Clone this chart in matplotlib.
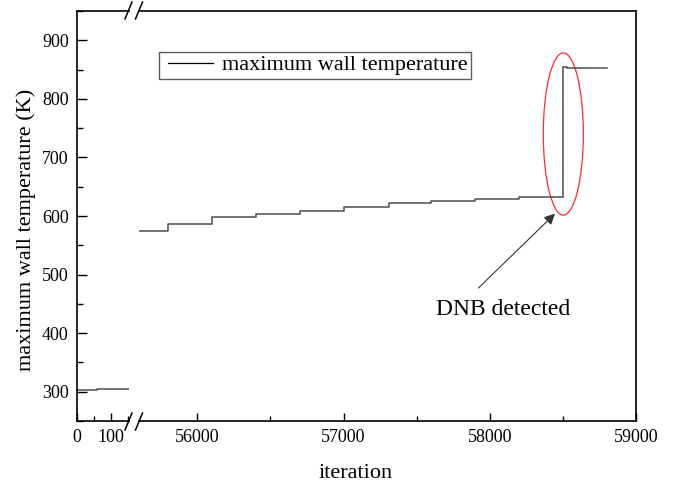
import matplotlib
matplotlib.use("Agg")
import matplotlib.pyplot as plt
from matplotlib.patches import Ellipse
from matplotlib.lines import Line2D
from matplotlib.legend_handler import HandlerLine2D
from matplotlib.ticker import MultipleLocator

plt.rcParams['font.family'] = ['Liberation Serif', 'DejaVu Serif']

# ---- data ----
# early iterations (left segment)
iter_early = [0, 60, 60, 153]
temp_early = [303, 303, 304.5, 304.5]

# later iterations (right segment): step profile
step_iters = [55601, 55800, 56100, 56400, 56700, 57000, 57310, 57600, 57900, 58200, 58500]
step_temps = [575, 586.5, 598, 603.5, 609, 615, 621.5, 625, 628.5, 632, 855]
end_iter = 58800
end_temp = 852

series_label = "maximum wall temperature"
xlabel = "iteration"
ylabel = "maximum wall temperature (K)"
annot_text = "DNB detected"
annot_xy = (58446, 604)
annot_from = (57922, 477)
annot_text_xy = (58090, 440)
ellipse_center = (58503, 740)
ellipse_size = (274, 277)

W, H = 675, 486
fig = plt.figure(figsize=(W / 100, H / 100), dpi=100)

def fx(px):
    return px / W

def fy(py):
    return 1 - py / H

ax_bottom = fy(421)
ax_height = (421 - 11) / H
ax1 = fig.add_axes([fx(77), ax_bottom, fx(129) - fx(77), ax_height])
ax2 = fig.add_axes([fx(139), ax_bottom, fx(636) - fx(139), ax_height], sharey=ax1)

line_color = '#4d4d4d'
ax1.plot(iter_early, temp_early, color=line_color, lw=1.1)

xs, ys = [], []
for i, (it, t) in enumerate(zip(step_iters, step_temps)):
    if i > 0:
        xs.append(it)
        ys.append(step_temps[i - 1])
    xs.append(it)
    ys.append(t)
xs += [58530, 58530, end_iter]
ys += [855, end_temp, end_temp]
line, = ax2.plot(xs, ys, color=line_color, lw=1.1, label=series_label)

ax1.set_xlim(0, 153)
ax2.set_xlim(55601, 59000)
ax1.set_ylim(250, 950)

for ax in (ax1, ax2):
    for s in ax.spines.values():
        s.set_linewidth(1.2)
ax1.spines['right'].set_visible(False)
ax2.spines['left'].set_visible(False)

ax1.xaxis.set_major_locator(MultipleLocator(100))
ax1.xaxis.set_minor_locator(MultipleLocator(50))
ax1.yaxis.set_major_locator(MultipleLocator(100))
ax1.yaxis.set_minor_locator(MultipleLocator(50))
ax2.xaxis.set_major_locator(MultipleLocator(1000))
ax2.xaxis.set_minor_locator(MultipleLocator(500))

ax1.tick_params(axis='both', which='major', direction='in', length=6, width=1, labelsize=13, pad=6,
                top=False, right=False)
ax1.tick_params(axis='both', which='minor', direction='in', length=3.5, width=1, top=False, right=False)
ax1.tick_params(axis='y', which='major', length=7)
ax1.tick_params(axis='y', which='minor', length=4)
ax2.tick_params(axis='x', which='major', direction='in', length=6, width=1, labelsize=13, pad=6, top=False)
ax2.tick_params(axis='x', which='minor', direction='in', length=3.5, width=1, top=False)
ax2.tick_params(axis='y', which='both', left=False, right=False, labelleft=False)

# break marks
def slash(cx, cy):
    fig.add_artist(Line2D([fx(cx - 3.5), fx(cx + 3.5)], [fy(cy + 8.5), fy(cy - 8.5)],
                          color='black', lw=1.1))
for cy in (421.5, 10.5):
    slash(128.5, cy)
    slash(139, cy)

# ellipse + annotation
ell = Ellipse(ellipse_center, ellipse_size[0], ellipse_size[1], fill=False,
              edgecolor='#ff2a2a', lw=0.9)
ax2.add_patch(ell)
ax2.annotate("", xy=annot_xy, xytext=annot_from,
             arrowprops=dict(arrowstyle='-|>', color='#333333', lw=0.8, mutation_scale=16,
                             shrinkA=0, shrinkB=0))
ax2.text(annot_text_xy[0], annot_text_xy[1], annot_text, fontsize=17, ha='center', va='center')

leg = ax2.legend(loc='upper left', bbox_to_anchor=(fx(159), fy(51.5)), bbox_transform=fig.transFigure,
                 fontsize=16, frameon=True, fancybox=False, edgecolor='#333333',
                 handlelength=2.3, handletextpad=0.4, borderpad=0.15, borderaxespad=0,
                 handler_map={line: HandlerLine2D(xpad=0.25)})
leg.get_frame().set_linewidth(1.0)
leg.legend_handles[0].set_color('black')
leg.legend_handles[0].set_linewidth(0.9)

fig.text(fx(356), fy(473), xlabel, fontsize=16, ha='center', va='center')
fig.text(fx(26), fy(230), ylabel, fontsize=16, ha='center', va='center', rotation=90)

fig.savefig("out.png", dpi=100)
